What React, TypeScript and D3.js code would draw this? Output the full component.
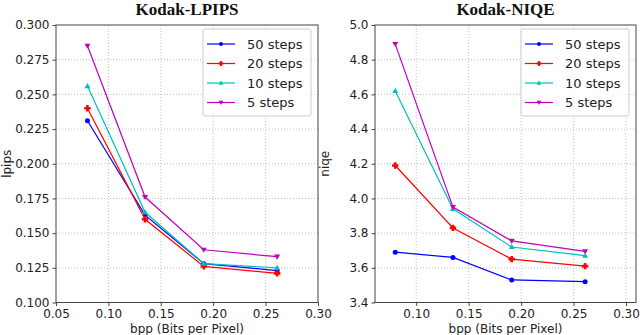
import React, { useEffect, useRef } from "react";
import * as d3 from "d3";

// bpp values shared by both panels
const bpp = [0.08, 0.135, 0.191, 0.261];
const seriesNames = ["50 steps", "20 steps", "10 steps", "5 steps"];
const seriesColors = ["#0000ff", "#ff0000", "#00bfbf", "#bf00bf"];
const seriesMarkers = ["circle", "plus", "up", "down"];

const lpips50 = [0.231, 0.163, 0.128, 0.123];
const lpips20 = [0.240, 0.160, 0.126, 0.121];
const lpips10 = [0.256, 0.165, 0.128, 0.125];
const lpips5 = [0.285, 0.176, 0.138, 0.133];

const niqe50 = [3.69, 3.66, 3.53, 3.52];
const niqe20 = [4.19, 3.83, 3.65, 3.61];
const niqe10 = [4.62, 3.94, 3.72, 3.67];
const niqe5 = [4.89, 3.95, 3.755, 3.695];

const xTicks = [0.05, 0.1, 0.15, 0.2, 0.25, 0.3];
const lpipsTicks = [0.1, 0.125, 0.15, 0.175, 0.2, 0.225, 0.25, 0.275, 0.3];
const niqeTicks = [3.4, 3.6, 3.8, 4.0, 4.2, 4.4, 4.6, 4.8, 5.0];

const font = "'DejaVu Sans', sans-serif";

function drawPanel(svg, opts) {
  const { left, right, top, bottom, xDomain, yDomain, yTicks, yFmt, title, ylabel, series, ylabelX } = opts;
  const x = d3.scaleLinear().domain(xDomain).range([left, right]);
  const y = d3.scaleLinear().domain(yDomain).range([bottom, top]);
  const g = svg.append("g");

  // grid
  g.selectAll(".gx")
    .data(xTicks.filter(t => t > xDomain[0] + 1e-6 && t < xDomain[1] - 1e-6))
    .join("line")
    .attr("x1", d => x(d)).attr("x2", d => x(d))
    .attr("y1", top).attr("y2", bottom)
    .attr("stroke", "#b0b0b0").attr("stroke-width", 0.8).attr("stroke-dasharray", "1,2");
  g.selectAll(".gy")
    .data(yTicks.slice(1, -1))
    .join("line")
    .attr("x1", left).attr("x2", right)
    .attr("y1", d => y(d)).attr("y2", d => y(d))
    .attr("stroke", "#b0b0b0").attr("stroke-width", 0.8).attr("stroke-dasharray", "1,2");

  // axes
  const xAxis = g.append("g").attr("transform", `translate(0,${bottom})`)
    .call(d3.axisBottom(x).tickValues(xTicks.filter(t => t >= xDomain[0] - 1e-6 && t <= xDomain[1] + 1e-6)).tickFormat(d3.format(".2f")).tickSizeOuter(0).tickSize(3.5).tickPadding(3));
  const yAxis = g.append("g").attr("transform", `translate(${left},0)`)
    .call(d3.axisLeft(y).tickValues(yTicks).tickFormat(yFmt).tickSizeOuter(0).tickSize(3.5).tickPadding(3));
  [xAxis, yAxis].forEach(a => {
    a.select(".domain").remove();
    a.selectAll("text").attr("font-family", font).attr("font-size", 12).attr("fill", "#222");
    a.selectAll("line").attr("stroke", "#444");
  });

  // frame
  g.append("rect")
    .attr("x", left).attr("y", top)
    .attr("width", right - left).attr("height", bottom - top)
    .attr("fill", "none").attr("stroke", "#444").attr("stroke-width", 1);

  // lines + markers
  const line = d3.line().x((d, i) => x(bpp[i])).y(d => y(d));
  series.forEach((vals, k) => {
    g.append("path").datum(vals)
      .attr("d", line)
      .attr("fill", "none").attr("stroke", seriesColors[k]).attr("stroke-width", 1.2);
    vals.forEach((v, i) => drawMarker(g, seriesMarkers[k], x(bpp[i]), y(v), seriesColors[k]));
  });

  // title & labels
  svg.append("text").attr("x", (left + right) / 2).attr("y", 15)
    .attr("text-anchor", "middle").attr("font-family", "'Liberation Serif', serif")
    .attr("font-weight", "bold").attr("font-size", 17).attr("fill", "#111").text(title);
  svg.append("text").attr("x", (left + right) / 2).attr("y", 333)
    .attr("text-anchor", "middle").attr("font-family", font)
    .attr("font-size", 12).attr("fill", "#222").text("bpp (Bits per Pixel)");
  svg.append("text").attr("transform", `translate(${ylabelX},${(top + bottom) / 2}) rotate(-90)`)
    .attr("text-anchor", "middle").attr("font-family", font)
    .attr("font-size", 12).attr("fill", "#222").text(ylabel);

  // legend
  const lx = right - 115, ly = top + 4;
  g.append("rect").attr("x", lx).attr("y", ly).attr("width", 108).attr("height", 87)
    .attr("rx", 2).attr("fill", "white").attr("fill-opacity", 0.85)
    .attr("stroke", "#ccc").attr("stroke-width", 1);
  seriesNames.forEach((name, k) => {
    const yy = ly + 15 + k * 19.5;
    g.append("line").attr("x1", lx + 4).attr("x2", lx + 32).attr("y1", yy).attr("y2", yy)
      .attr("stroke", seriesColors[k]).attr("stroke-width", 1.2);
    drawMarker(g, seriesMarkers[k], lx + 18, yy, seriesColors[k], 0.8);
    g.append("text").attr("x", lx + 44).attr("y", yy + 4.5)
      .attr("font-family", font).attr("font-size", 13).attr("fill", "#222").text(name);
  });
}

function drawMarker(g, type, cx, cy, color, s = 1) {
  if (type === "circle") {
    g.append("circle").attr("cx", cx).attr("cy", cy).attr("r", 2.5 * s).attr("fill", color);
  } else if (type === "plus") {
    const a = 3.2 * s, b = 1.3 * s;
    g.append("path").attr("transform", `translate(${cx},${cy})`)
      .attr("d", `M${-b},${-a}H${b}V${-b}H${a}V${b}H${b}V${a}H${-b}V${b}H${-a}V${-b}H${-b}Z`)
      .attr("fill", color);
  } else {
    const r = 3 * s, dir = type === "up" ? -1 : 1;
    g.append("path").attr("transform", `translate(${cx},${cy})`)
      .attr("d", `M0,${dir * r}L${r},${-dir * r * 0.7}L${-r},${-dir * r * 0.7}Z`)
      .attr("fill", color);
  }
}

export default function App() {
  const ref = useRef(null);
  useEffect(() => {
    const svg = d3.select(ref.current);
    svg.selectAll("*").remove();
    drawPanel(svg, {
      left: 56, right: 318, top: 25, bottom: 302.5,
      xDomain: [0.05, 0.3], yDomain: [0.1, 0.3], yTicks: lpipsTicks, yFmt: d3.format(".3f"),
      title: "Kodak-LPIPS", ylabel: "lpips", ylabelX: 11,
      series: [lpips50, lpips20, lpips10, lpips5],
    });
    drawPanel(svg, {
      left: 375, right: 636, top: 25, bottom: 302.5,
      xDomain: [0.0607, 0.3095], yDomain: [3.4, 5.0], yTicks: niqeTicks, yFmt: d3.format(".1f"),
      title: "Kodak-NIQE", ylabel: "niqe", ylabelX: 329,
      series: [niqe50, niqe20, niqe10, niqe5],
    });
  }, []);
  return (
    <svg ref={ref} width={640} height={335} style={{ position: "absolute", left: 0, top: 0, background: "white" }} />
  );
}
